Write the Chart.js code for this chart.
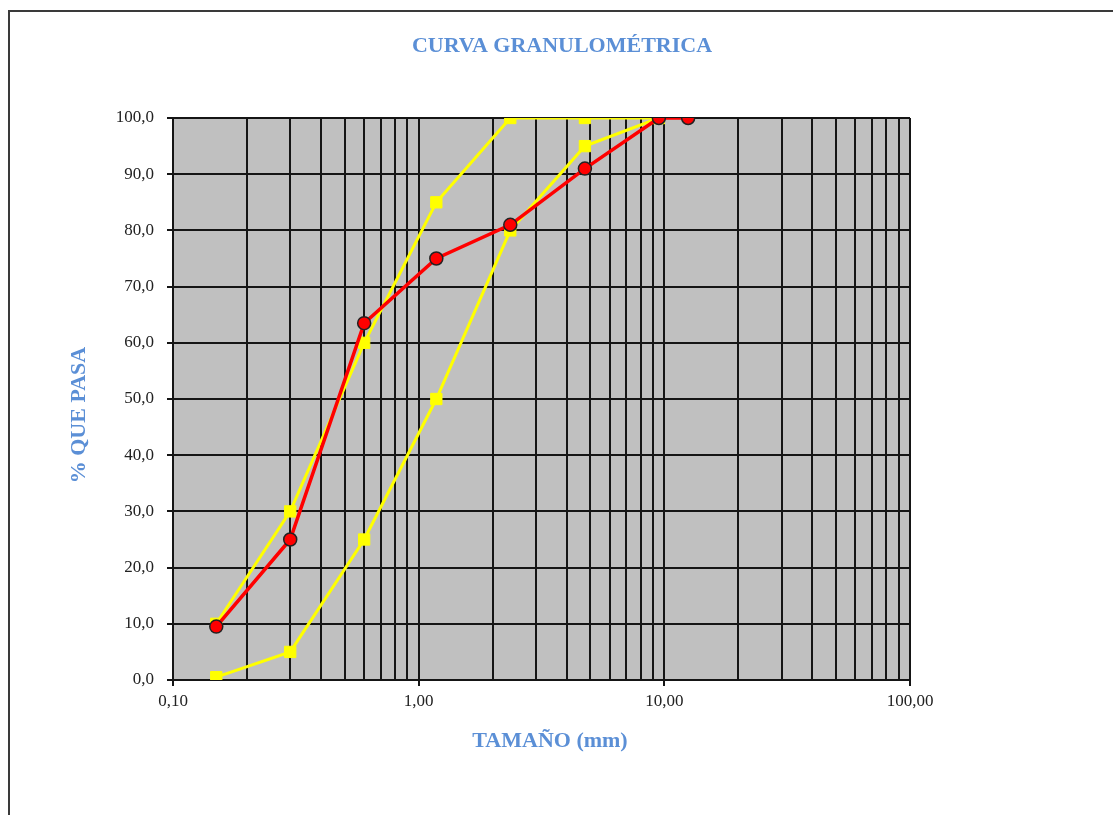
<!DOCTYPE html>
<html>
<head>
<meta charset="utf-8">
<script src="https://cdn.jsdelivr.net/npm/chart.js@4/dist/chart.umd.min.js"></script>
<style>
  body { margin: 0; background: #fff; }
  .frame { position: absolute; left: 8px; top: 10px; width: 1200px; height: 900px;
           border-top: 2px solid #3a3a3a; border-left: 2px solid #3a3a3a; }
  #chart { position: absolute; left: 0; top: 0; }
</style>
</head>
<body>
<div class="frame"></div>
<canvas id="chart" width="1113" height="815"></canvas>
<script>
// sieve openings (mm) and % passing
const sizes = [0.15, 0.30, 0.60, 1.18, 2.36, 4.75, 9.50, 12.50];
const passing = [9.5, 25.0, 63.5, 75.0, 81.0, 91.0, 100.0, 100.0];

// spec band
const bandSizes = [0.15, 0.30, 0.60, 1.18, 2.36, 4.75, 9.50];
const bandLower = [0.5, 5.0, 25.0, 50.0, 80.0, 95.0, 100.0];
const bandUpper = [10.0, 30.0, 60.0, 85.0, 100.0, 100.0, 100.0];

const xDecades = [0.1, 1, 10, 100];
const yTicks = [0, 10, 20, 30, 40, 50, 60, 70, 80, 90, 100];

const BLUE = '#5b8fd6';
const SERIF = '"Liberation Serif", "DejaVu Serif", serif';

// grid lines at 1..9 x each decade
const xGrid = [];
xDecades.slice(0, -1).forEach(d => { for (let k = 1; k < 10; k++) xGrid.push(+(k * d).toFixed(4)); });
xGrid.push(100);

const pts = (xs, ys) => xs.map((x, i) => ({ x, y: ys[i] }));

// titles drawn at fixed spots like the original sheet
const textPlugin = {
  id: 'texts',
  afterDraw(chart) {
    const ctx = chart.ctx;
    ctx.save();
    ctx.fillStyle = BLUE;
    ctx.textAlign = 'center';
    ctx.textBaseline = 'middle';
    ctx.font = 'bold 22px ' + SERIF;
    ctx.fillText('CURVA GRANULOMÉTRICA', 562, 46);
    ctx.fillText('TAMAÑO (mm)', 550, 741);
    ctx.translate(79, 415);
    ctx.rotate(-Math.PI / 2);
    ctx.fillText('% QUE PASA', 0, 0);
    ctx.restore();
  }
};

const bgPlugin = {
  id: 'plotBg',
  beforeDraw(chart) {
    const { ctx, chartArea: a } = chart;
    ctx.save();
    ctx.fillStyle = '#c0c0c0';
    ctx.fillRect(a.left, a.top, a.right - a.left, a.bottom - a.top);
    ctx.restore();
  }
};

new Chart(document.getElementById('chart'), {
  type: 'line',
  data: {
    datasets: [
      {
        data: pts(sizes, passing), borderColor: '#ff0000', borderWidth: 3.5,
        pointStyle: 'circle', pointRadius: 6.5, pointBackgroundColor: '#ff0000',
        pointBorderColor: '#222', pointBorderWidth: 1.5, order: 0
      },
      {
        data: pts(bandSizes, bandUpper), borderColor: '#ffff00', borderWidth: 3,
        pointStyle: 'rect', pointRadius: 8, pointBackgroundColor: '#ffff00',
        pointBorderColor: '#ffff00', pointBorderWidth: 1, order: 1
      },
      {
        data: pts(bandSizes, bandLower), borderColor: '#ffff00', borderWidth: 3,
        pointStyle: 'rect', pointRadius: 8, pointBackgroundColor: '#ffff00',
        pointBorderColor: '#ffff00', pointBorderWidth: 1, order: 1
      }
    ]
  },
  options: {
    responsive: false,
    animation: false,
    layout: { padding: { left: 0, top: 118, right: 203, bottom: 0 } },
    plugins: { legend: { display: false }, tooltip: { enabled: false } },
    scales: {
      x: {
        type: 'logarithmic', min: 0.1, max: 100,
        afterFit: s => { s.height = 135; },
        afterBuildTicks: s => { s.ticks = xGrid.map(v => ({ value: v })); },
        grid: {
          color: '#151515', lineWidth: 2, tickLength: 6,
          tickColor: c => xDecades.some(d => Math.abs(d - c.tick.value) < 1e-9) ? '#151515' : 'rgba(0,0,0,0)'
        },
        border: { display: false },
        ticks: {
          autoSkip: false, maxRotation: 0, padding: 5,
          color: '#222', font: { family: SERIF, size: 17 },
          callback: v => xDecades.some(d => Math.abs(d - v) < 1e-9) ? v.toFixed(2).replace('.', ',') : ''
        }
      },
      y: {
        min: 0, max: 100,
        afterFit: s => { s.width = 173; },
        afterBuildTicks: s => { s.ticks = yTicks.map(v => ({ value: v })); },
        grid: { color: '#151515', lineWidth: 2, tickLength: 6, tickColor: '#151515' },
        border: { display: false },
        ticks: {
          padding: 13, color: '#222', font: { family: SERIF, size: 17 },
          callback: v => v.toFixed(1).replace('.', ',')
        }
      }
    }
  },
  plugins: [bgPlugin, textPlugin]
});
</script>
</body>
</html>
